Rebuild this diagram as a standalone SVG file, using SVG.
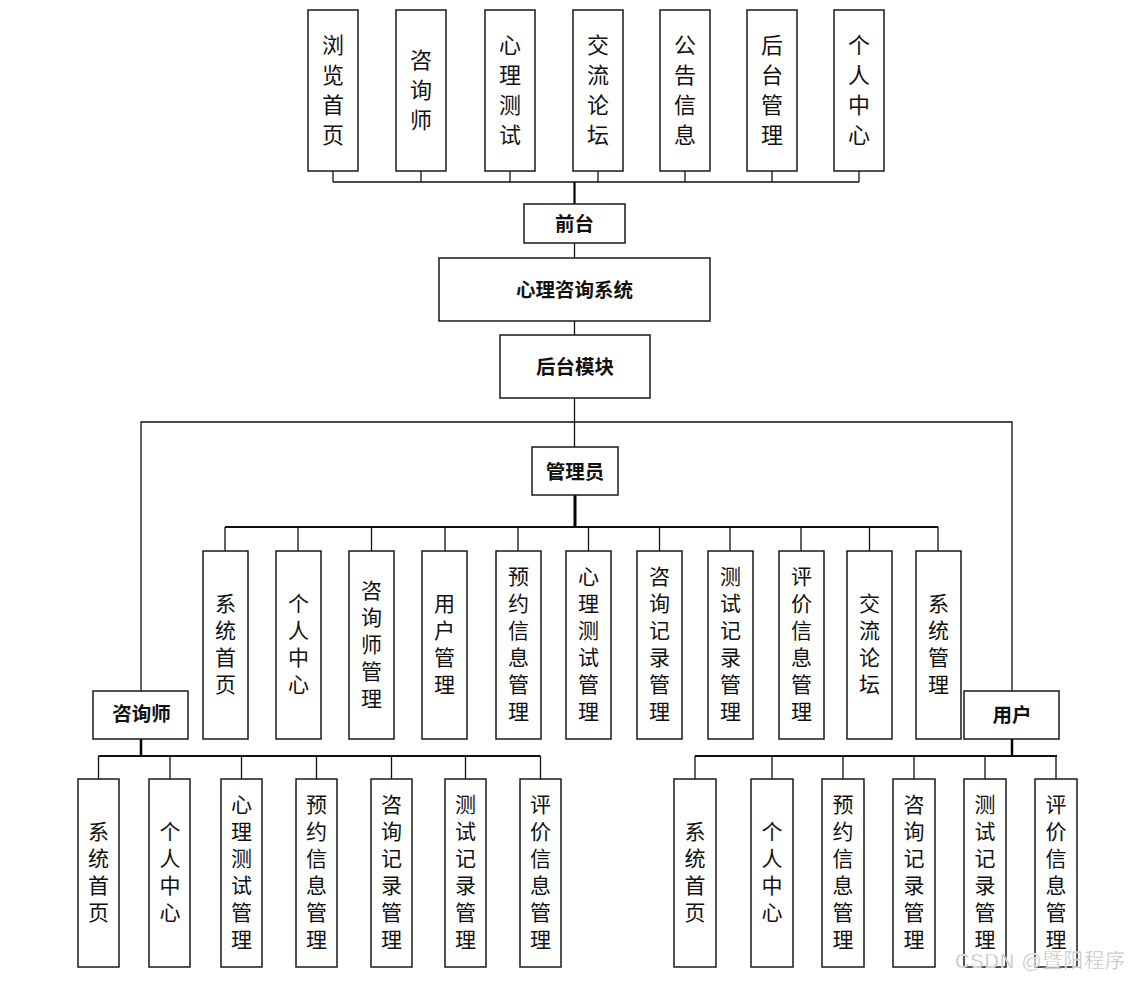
<svg xmlns="http://www.w3.org/2000/svg" width="1129" height="981" viewBox="0 0 1129 981">
<style>
.box{fill:#fff;stroke:#1a1a1a;stroke-width:1.5}
.ln{fill:none;stroke:#111;stroke-width:1.3}
.bus{fill:none;stroke:#111;stroke-width:2}
.trunk{fill:none;stroke:#000;stroke-width:3}
text{font-family:"Noto Sans CJK SC","Liberation Sans",sans-serif;fill:#111}
.h{font-size:19.5px;font-weight:bold;text-anchor:middle}
.v22{font-size:22px;writing-mode:vertical-rl;letter-spacing:8px;text-anchor:start}
.v21{font-size:21px;writing-mode:vertical-rl;letter-spacing:6px;text-anchor:start}
.wm{font-family:"Liberation Sans","Noto Sans CJK SC",sans-serif;font-size:20px;fill:#bcbcbc;stroke:#fff;stroke-width:0.4}
</style>
<rect width="1129" height="981" fill="#fff"/>
<g id="connectors">
<path class="ln" d="M333,171V182M421,171V182M510,171V182M598,171V182M685,171V182M772,171V182M859,171V182M333,182H859"/>
<path class="trunk" d="M574.5,182V204" style="stroke-width:2.2"/>
<path class="ln" d="M574.5,243V258M574.5,321V335M574.5,398V447"/>
<path class="ln" d="M141,691V422H1012V691"/>
<path class="trunk" d="M575,495V527"/>
<path class="bus" d="M225,527H938"/>
<path class="ln" d="M225,527V551M298,527V551M371.5,527V551M445,527V551M518,527V551M588.5,527V551M659.5,527V551M730,527V551M801,527V551M869.5,527V551M938,527V551"/>
<path class="trunk" d="M141,739V756" style="stroke-width:2.5"/>
<path class="bus" d="M98.5,756H540.5"/>
<path class="ln" d="M98.5,756V779M170,756V779M241.5,756V779M316.5,756V779M391.5,756V779M465.5,756V779M540.5,756V779"/>
<path class="trunk" d="M1012,739V756" style="stroke-width:2.5"/>
<path class="bus" d="M695,756H1057"/>
<path class="ln" d="M695,756V779M772,756V779M843,756V779M914,756V779M985,756V779M1056,756V779"/>
</g>
<g id="f1"><rect class="box" x="308" y="10" width="50" height="161"/><text class="v22" x="333" y="33.5">浏览首页</text></g>
<g id="f2"><rect class="box" x="396" y="10" width="50" height="161"/><text class="v22" x="421" y="48.5">咨询师</text></g>
<g id="f3"><rect class="box" x="485" y="10" width="50" height="161"/><text class="v22" x="510" y="33.5">心理测试</text></g>
<g id="f4"><rect class="box" x="573" y="10" width="50" height="161"/><text class="v22" x="598" y="33.5">交流论坛</text></g>
<g id="f5"><rect class="box" x="660" y="10" width="50" height="161"/><text class="v22" x="685" y="33.5">公告信息</text></g>
<g id="f6"><rect class="box" x="747" y="10" width="50" height="161"/><text class="v22" x="772" y="33.5">后台管理</text></g>
<g id="f7"><rect class="box" x="834" y="10" width="50" height="161"/><text class="v22" x="859" y="33.5">个人中心</text></g>
<g id="qiantai"><rect class="box" x="524" y="204" width="101" height="39"/><text class="h" x="574.5" y="230.5">前台</text></g>
<g id="system"><rect class="box" x="439" y="258" width="271" height="63"/><text class="h" x="574.5" y="297">心理咨询系统</text></g>
<g id="houtai"><rect class="box" x="500" y="335" width="150" height="63"/><text class="h" x="575" y="374">后台模块</text></g>
<g id="admin"><rect class="box" x="532" y="447" width="86" height="48"/><text class="h" x="575" y="478.5">管理员</text></g>
<g id="a1"><rect class="box" x="203" y="551" width="45" height="188"/><text class="v21" x="225.5" y="593">系统首页</text></g>
<g id="a2"><rect class="box" x="276" y="551" width="45" height="188"/><text class="v21" x="298.5" y="593">个人中心</text></g>
<g id="a3"><rect class="box" x="349" y="551" width="45" height="188"/><text class="v21" x="371.5" y="579.5">咨询师管理</text></g>
<g id="a4"><rect class="box" x="422" y="551" width="45" height="188"/><text class="v21" x="444.5" y="593">用户管理</text></g>
<g id="a5"><rect class="box" x="496" y="551" width="45" height="188"/><text class="v21" x="518.5" y="566">预约信息管理</text></g>
<g id="a6"><rect class="box" x="566" y="551" width="45" height="188"/><text class="v21" x="588.5" y="566">心理测试管理</text></g>
<g id="a7"><rect class="box" x="637" y="551" width="45" height="188"/><text class="v21" x="659.5" y="566">咨询记录管理</text></g>
<g id="a8"><rect class="box" x="708" y="551" width="45" height="188"/><text class="v21" x="730.5" y="566">测试记录管理</text></g>
<g id="a9"><rect class="box" x="779" y="551" width="45" height="188"/><text class="v21" x="801.5" y="566">评价信息管理</text></g>
<g id="a10"><rect class="box" x="847" y="551" width="45" height="188"/><text class="v21" x="869.5" y="593">交流论坛</text></g>
<g id="a11"><rect class="box" x="916" y="551" width="45" height="188"/><text class="v21" x="938.5" y="593">系统管理</text></g>
<g id="counselor"><rect class="box" x="93" y="691" width="95" height="48"/><text class="h" x="141.5" y="721">咨询师</text></g>
<g id="user"><rect class="box" x="964" y="691" width="95" height="48"/><text class="h" x="1012" y="721.5">用户</text></g>
<g id="c1"><rect class="box" x="78" y="779" width="41" height="188"/><text class="v21" x="98.5" y="821">系统首页</text></g>
<g id="c2"><rect class="box" x="149" y="779" width="41" height="188"/><text class="v21" x="170" y="821">个人中心</text></g>
<g id="c3"><rect class="box" x="221" y="779" width="41" height="188"/><text class="v21" x="241.5" y="794">心理测试管理</text></g>
<g id="c4"><rect class="box" x="296" y="779" width="41" height="188"/><text class="v21" x="316.5" y="794">预约信息管理</text></g>
<g id="c5"><rect class="box" x="371" y="779" width="41" height="188"/><text class="v21" x="391.5" y="794">咨询记录管理</text></g>
<g id="c6"><rect class="box" x="445" y="779" width="41" height="188"/><text class="v21" x="465.5" y="794">测试记录管理</text></g>
<g id="c7"><rect class="box" x="520" y="779" width="41" height="188"/><text class="v21" x="540.5" y="794">评价信息管理</text></g>
<g id="u1"><rect class="box" x="674" y="779" width="42" height="188"/><text class="v21" x="695" y="821">系统首页</text></g>
<g id="u2"><rect class="box" x="751" y="779" width="42" height="188"/><text class="v21" x="772" y="821">个人中心</text></g>
<g id="u3"><rect class="box" x="822" y="779" width="42" height="188"/><text class="v21" x="843" y="794">预约信息管理</text></g>
<g id="u4"><rect class="box" x="893" y="779" width="42" height="188"/><text class="v21" x="914" y="794">咨询记录管理</text></g>
<g id="u5"><rect class="box" x="964" y="779" width="42" height="188"/><text class="v21" x="985" y="794">测试记录管理</text></g>
<g id="u6"><rect class="box" x="1035" y="779" width="42" height="188"/><text class="v21" x="1056" y="794">评价信息管理</text></g>
<text class="wm" x="955" y="968" textLength="170" lengthAdjust="spacing">CSDN @暨阳程序</text>
</svg>
